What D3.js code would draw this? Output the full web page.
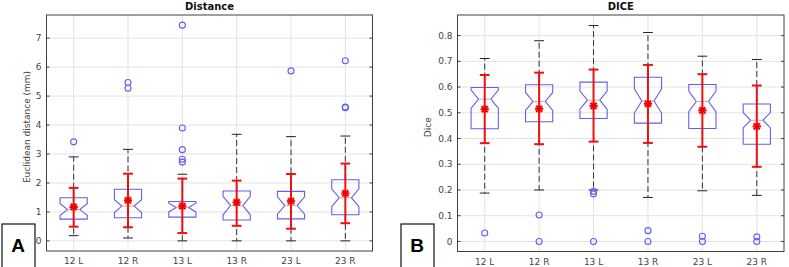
<!DOCTYPE html>
<html>
<head>
<meta charset="utf-8">
<script src="https://cdn.jsdelivr.net/npm/d3@7"></script>
<style>
  body { margin: 0; background: #fff; }
  svg { display: block; }
  text { font-family: "DejaVu Sans", sans-serif; }
</style>
</head>
<body>
<svg id="chart"></svg>
<script>
const canWidth = 789;
const canHeight = 267;

const groups = ["12 L", "12 R", "13 L", "13 R", "23 L", "23 R"];

// Distance (mm)
const distQ1 = [0.75, 0.80, 0.82, 0.72, 0.76, 0.90];
const distMed = [1.08, 1.20, 1.15, 1.22, 1.22, 1.49];
const distQ3 = [1.49, 1.78, 1.36, 1.72, 1.71, 2.11];
const distNotchLo = [0.88, 0.98, 1.00, 0.90, 0.92, 1.18];
const distNotchHi = [1.28, 1.42, 1.30, 1.54, 1.52, 1.80];
const distWhiskLo = [0.18, 0.10, 0.00, 0.00, 0.00, 0.00];
const distWhiskHi = [2.90, 3.16, 2.30, 3.68, 3.60, 3.62];
const distOutliers = [[3.42], [5.47, 5.27], [2.72, 2.82, 3.15, 3.90, 7.45], [], [5.87], [6.22, 4.62, 4.60]];
const distMean = [1.17, 1.40, 1.20, 1.33, 1.37, 1.64];
const distErrLo = [0.49, 0.47, 0.27, 0.52, 0.42, 0.61];
const distErrHi = [1.83, 2.32, 2.15, 2.08, 2.31, 2.67];
const distTicks = [0, 1, 2, 3, 4, 5, 6, 7];

// Dice
const diceQ1 = [0.438, 0.465, 0.478, 0.460, 0.439, 0.378];
const diceMed = [0.553, 0.544, 0.549, 0.546, 0.544, 0.471];
const diceQ3 = [0.598, 0.609, 0.619, 0.638, 0.610, 0.534];
const diceNotchLo = [0.518, 0.509, 0.514, 0.499, 0.504, 0.441];
const diceNotchHi = [0.588, 0.579, 0.584, 0.593, 0.584, 0.501];
const diceWhiskLo = [0.188, 0.200, 0.200, 0.171, 0.197, 0.179];
const diceWhiskHi = [0.711, 0.780, 0.839, 0.812, 0.720, 0.707];
const diceOutliers = [[0.033], [0.103, 0.0], [0.195, 0.185, 0.0], [0.042, 0.0], [0.020, 0.0], [0.018, 0.0]];
const diceMean = [0.514, 0.515, 0.527, 0.535, 0.509, 0.447];
const diceErrLo = [0.382, 0.378, 0.388, 0.383, 0.368, 0.290];
const diceErrHi = [0.647, 0.656, 0.668, 0.686, 0.650, 0.606];
const diceTicks = [0, 0.1, 0.2, 0.3, 0.4, 0.5, 0.6, 0.7, 0.8];

const boxColor = "#6060ee";
const axisColor = "#404040";

const svg = d3.select('#chart').attr('width', canWidth).attr('height', canHeight);

function drawPanel(p) {
    const xs = d3.scaleBand().domain(groups).range([p.left, p.right]);
    const ys = d3.scaleLinear().domain(p.domain).range([p.bottom, p.top]);
    const bw = xs.bandwidth();
    const cx = g => xs(g) + bw / 2;
    const half = bw * 0.25;
    const waist = half * 0.45;
    const cap = bw * 0.09;

    const g = svg.append('g');

    // grid
    g.selectAll('.ygrid').data(p.ticks).enter().append('line')
      .attr('x1', p.left).attr('x2', p.right)
      .attr('y1', d => ys(d)).attr('y2', d => ys(d))
      .attr('stroke', '#e3e3e3').attr('stroke-width', 1);
    g.selectAll('.xgrid').data(groups).enter().append('line')
      .attr('x1', d => cx(d)).attr('x2', d => cx(d))
      .attr('y1', p.top).attr('y2', p.bottom)
      .attr('stroke', '#e3e3e3').attr('stroke-width', 1);

    const rows = groups.map((d, i) => ({
        g: d, q1: p.q1[i], med: p.med[i], q3: p.q3[i], nlo: p.nlo[i], nhi: p.nhi[i],
        wlo: p.wlo[i], whi: p.whi[i], mean: p.mean[i], elo: p.elo[i], ehi: p.ehi[i], out: p.out[i]
    }));

    // whiskers
    g.selectAll('.wup').data(rows).enter().append('line')
      .attr('x1', d => cx(d.g)).attr('x2', d => cx(d.g))
      .attr('y1', d => ys(d.q3)).attr('y2', d => ys(d.whi))
      .attr('stroke', '#333').attr('stroke-dasharray', '6,3');
    g.selectAll('.wdn').data(rows).enter().append('line')
      .attr('x1', d => cx(d.g)).attr('x2', d => cx(d.g))
      .attr('y1', d => ys(d.q1)).attr('y2', d => ys(d.wlo))
      .attr('stroke', '#333').attr('stroke-dasharray', '6,3');
    ['whi', 'wlo'].forEach(k => {
        g.selectAll('.cap' + k).data(rows).enter().append('line')
          .attr('x1', d => cx(d.g) - cap).attr('x2', d => cx(d.g) + cap)
          .attr('y1', d => ys(d[k])).attr('y2', d => ys(d[k]))
          .attr('stroke', '#222').attr('stroke-width', 1);
    });

    // notched boxes
    g.selectAll('.box').data(rows).enter().append('path')
      .attr('d', d => {
          const c = cx(d.g);
          const pts = [
              [c - half, ys(d.q3)], [c + half, ys(d.q3)], [c + half, ys(d.nhi)],
              [c + waist, ys(d.med)], [c + half, ys(d.nlo)], [c + half, ys(d.q1)],
              [c - half, ys(d.q1)], [c - half, ys(d.nlo)], [c - waist, ys(d.med)],
              [c - half, ys(d.nhi)]
          ];
          return d3.line()(pts) + 'Z';
      })
      .attr('fill', 'none').attr('stroke', boxColor).attr('stroke-width', 1.1);
    g.selectAll('.med').data(rows).enter().append('line')
      .attr('x1', d => cx(d.g) - waist).attr('x2', d => cx(d.g) + waist)
      .attr('y1', d => ys(d.med)).attr('y2', d => ys(d.med))
      .attr('stroke', '#f0a0a0').attr('stroke-width', 1);

    // outliers
    const outs = [];
    rows.forEach(d => d.out.forEach(v => outs.push({ g: d.g, v: v })));
    g.selectAll('.out').data(outs).enter().append('circle')
      .attr('cx', d => cx(d.g)).attr('cy', d => ys(d.v)).attr('r', 3)
      .attr('fill', 'none').attr('stroke', boxColor).attr('stroke-width', 1.1);

    // mean +- sd in red
    g.selectAll('.err').data(rows).enter().append('line')
      .attr('x1', d => cx(d.g)).attr('x2', d => cx(d.g))
      .attr('y1', d => ys(d.elo)).attr('y2', d => ys(d.ehi))
      .attr('stroke', '#ee1111').attr('stroke-width', 2);
    ['elo', 'ehi'].forEach(k => {
        g.selectAll('.ecap' + k).data(rows).enter().append('line')
          .attr('x1', d => cx(d.g) - cap).attr('x2', d => cx(d.g) + cap)
          .attr('y1', d => ys(d[k])).attr('y2', d => ys(d[k]))
          .attr('stroke', '#ee1111').attr('stroke-width', 2);
    });
    const star = g.selectAll('.star').data(rows).enter().append('g')
      .attr('transform', d => `translate(${cx(d.g)},${ys(d.mean)})`);
    star.append('circle').attr('r', 4.5).attr('fill', '#ff6666').attr('opacity', 0.45);
    star.append('path')
      .attr('d', 'M-4,0H4M0,-4V4M-3,-3L3,3M-3,3L3,-3')
      .attr('stroke', '#ee0000').attr('stroke-width', 1.8);

    // frame and ticks
    g.append('rect')
      .attr('x', p.left).attr('y', p.top)
      .attr('width', p.right - p.left).attr('height', p.bottom - p.top)
      .attr('fill', 'none').attr('stroke', axisColor).attr('stroke-width', 1);
    g.selectAll('.ytl').data(p.ticks).enter().append('line')
      .attr('x1', p.left).attr('x2', p.left + 3)
      .attr('y1', d => ys(d)).attr('y2', d => ys(d)).attr('stroke', axisColor);
    g.selectAll('.ytr').data(p.ticks).enter().append('line')
      .attr('x1', p.right - 3).attr('x2', p.right)
      .attr('y1', d => ys(d)).attr('y2', d => ys(d)).attr('stroke', axisColor);
    g.selectAll('.ylab').data(p.ticks).enter().append('text')
      .attr('x', p.left - 5).attr('y', d => ys(d)).attr('dy', '0.35em')
      .attr('text-anchor', 'end').attr('font-size', 9).attr('fill', '#444')
      .text(d => d3.format('')(d));
    g.selectAll('.xlab').data(groups).enter().append('text')
      .attr('x', d => cx(d)).attr('y', p.bottom + 13)
      .attr('text-anchor', 'middle').attr('font-size', 9).attr('fill', '#444')
      .text(d => d);

    g.append('text')
      .attr('x', (p.left + p.right) / 2).attr('y', 10)
      .attr('text-anchor', 'middle').attr('font-size', 10).attr('font-weight', 'bold')
      .attr('fill', '#111').text(p.title);
    g.append('text')
      .attr('transform', `translate(${p.ylabX},${(p.top + p.bottom) / 2 - 6}) rotate(-90)`)
      .attr('text-anchor', 'middle').attr('font-size', 9).attr('fill', '#444')
      .text(p.ylabel);

    // panel letter
    g.append('rect')
      .attr('x', p.tagX).attr('y', 224).attr('width', 33).attr('height', 50)
      .attr('fill', '#fff').attr('stroke', '#111').attr('stroke-width', 1.2);
    g.append('text')
      .attr('x', p.tagX + 16).attr('y', 252)
      .attr('text-anchor', 'middle').attr('font-size', 19).attr('font-weight', 'bold')
      .style('font-family', '"Liberation Sans", Arial, sans-serif')
      .attr('fill', '#000').text(p.tag);
}

drawPanel({
    left: 46.5, right: 372.5, top: 15, bottom: 251, domain: [-0.35, 7.8],
    ticks: distTicks, title: 'Distance', ylabel: 'Euclidean distance (mm)', ylabX: 30,
    q1: distQ1, med: distMed, q3: distQ3, nlo: distNotchLo, nhi: distNotchHi,
    wlo: distWhiskLo, whi: distWhiskHi, out: distOutliers,
    mean: distMean, elo: distErrLo, ehi: distErrHi, tag: 'A', tagX: 2
});

drawPanel({
    left: 457.5, right: 784, top: 15, bottom: 251.5, domain: [-0.039, 0.88],
    ticks: diceTicks, title: 'DICE', ylabel: 'Dice', ylabX: 431,
    q1: diceQ1, med: diceMed, q3: diceQ3, nlo: diceNotchLo, nhi: diceNotchHi,
    wlo: diceWhiskLo, whi: diceWhiskHi, out: diceOutliers,
    mean: diceMean, elo: diceErrLo, ehi: diceErrHi, tag: 'B', tagX: 401
});
</script>
</body>
</html>
